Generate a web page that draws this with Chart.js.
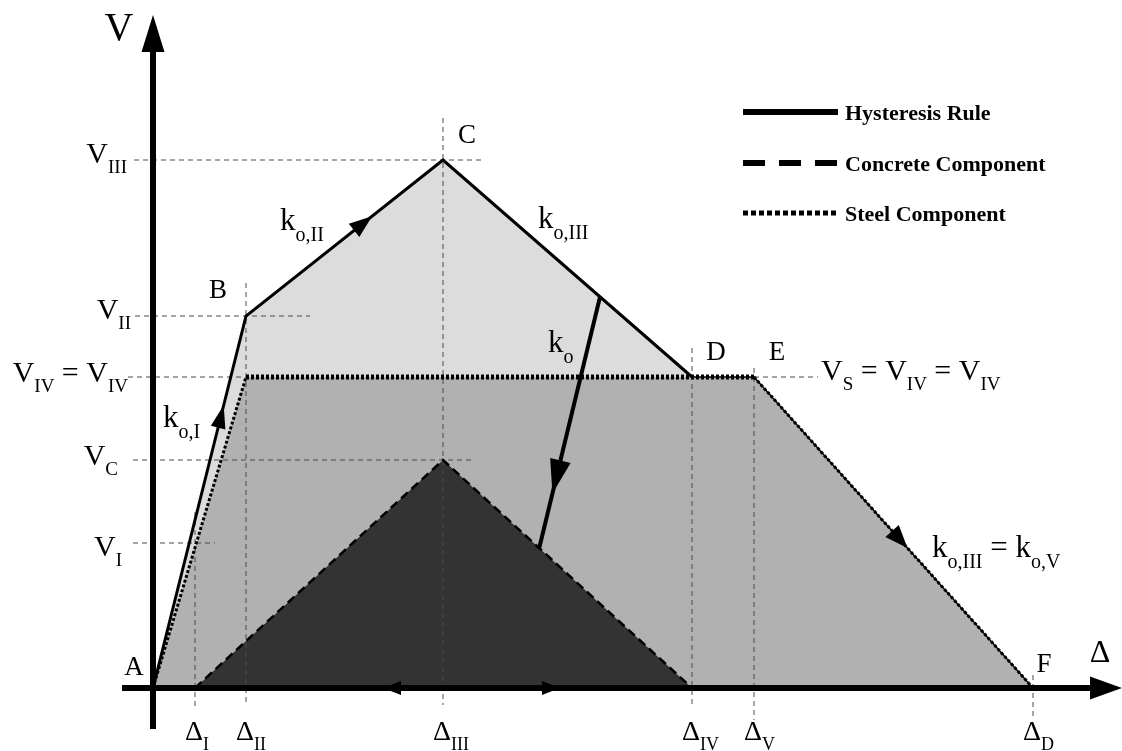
<!DOCTYPE html>
<html>
<head>
<meta charset="utf-8">
<title>Hysteresis rule</title>
<script src="https://cdn.jsdelivr.net/npm/chart.js@4.4.1/dist/chart.umd.min.js"></script>
<style>
  html, body { margin: 0; padding: 0; background: #fff; }
  #wrap { width: 1122px; height: 751px; }
</style>
</head>
<body>
<div id="wrap"><canvas id="chart" width="1122" height="751"></canvas></div>
<script>
// displacement marks on the Δ axis
var deltaNames = ['I', 'II', 'III', 'IV', 'V', 'D'];
var deltaValues = [4.2, 9.3, 29.0, 53.9, 60.1, 88.0];
// shear marks on the V axis
var shearNames = ['I', 'II', 'III', 'IV', 'C'];
var shearValues = [14.5, 37.2, 52.8, 31.1, 22.8];
// unloading branch k_o (start on C-D, end on concrete branch)
var unloadX = [44.7, 38.6];
var unloadY = [39.1, 13.9];

var d = {}, v = {};
deltaNames.forEach(function (n, i) { d[n] = deltaValues[i]; });
shearNames.forEach(function (n, i) { v[n] = shearValues[i]; });

var hysteresis = [
  {x: 0, y: 0}, {x: d.II, y: v.II}, {x: d.III, y: v.III},
  {x: d.IV, y: v.IV}, {x: d.V, y: v.IV}, {x: d.D, y: 0}
];
var steel = [{x: 0, y: 0}, {x: d.II, y: v.IV}, {x: d.V, y: v.IV}, {x: d.D, y: 0}];
var concrete = [{x: d.I, y: 0}, {x: d.III, y: v.C}, {x: d.IV, y: 0}];
var unload = [{x: unloadX[0], y: unloadY[0]}, {x: unloadX[1], y: unloadY[1]}];

// thin dashed reference lines
var guideSegs = [
  [[-1.9, v.III], [33.2, v.III]],
  [[-1.8, v.II], [15.7, v.II]],
  [[-2.5, v.IV], [d.II, v.IV]],
  [[d.V, v.IV], [66.5, v.IV]],
  [[-2.0, v.C], [32.2, v.C]],
  [[-2.0, v.I], [6.2, v.I]],
  [[d.I, 17.6], [d.I, -2.0]],
  [[d.II, 40.5], [d.II, -1.7]],
  [[d.III, 57.0], [d.III, -1.7]],
  [[d.IV, 34.0], [d.IV, -1.7]],
  [[d.V, 32.0], [d.V, -3.2]],
  [[d.D, 1.3], [d.D, -3.0]]
];
var guides = [];
guideSegs.forEach(function (s) {
  guides.push({x: s[0][0], y: s[0][1]}, {x: s[1][0], y: s[1][1]}, {x: s[1][0], y: null});
});

var SERIF = '"Liberation Serif", "DejaVu Serif", serif';

function rich(ctx, runs, x, y, align, size) {
  var subSize = Math.round(size * 0.63);
  var total = 0;
  runs.forEach(function (r) {
    ctx.font = (r[1] ? subSize : size) + 'px ' + SERIF;
    total += ctx.measureText(r[0]).width;
  });
  var cx = align === 'right' ? x - total : (align === 'center' ? x - total / 2 : x);
  ctx.textAlign = 'left';
  ctx.textBaseline = 'alphabetic';
  runs.forEach(function (r) {
    ctx.font = (r[1] ? subSize : size) + 'px ' + SERIF;
    ctx.fillText(r[0], cx, r[1] ? y + size * 0.34 : y);
    cx += ctx.measureText(r[0]).width;
  });
}

function arrowHead(ctx, tx, ty, ang, len, hw) {
  ctx.save();
  ctx.translate(tx, ty);
  ctx.rotate(ang);
  ctx.beginPath();
  ctx.moveTo(0, 0);
  ctx.lineTo(-len, -hw);
  ctx.lineTo(-len, hw);
  ctx.closePath();
  ctx.fill();
  ctx.restore();
}

var decor = {
  id: 'decor',
  afterDatasetsDraw: function (chart) {
    var ctx = chart.ctx;
    var xs = chart.scales.x, ys = chart.scales.y;
    var px = function (x) { return xs.getPixelForValue(x); };
    var py = function (y) { return ys.getPixelForValue(y); };
    ctx.save();
    ctx.fillStyle = '#000';
    ctx.strokeStyle = '#000';

    // axes
    ctx.lineWidth = 6;
    ctx.setLineDash([]);
    ctx.beginPath();
    ctx.moveTo(px(0), py(-4.1));
    ctx.lineTo(px(0), py(67.3) + 30);
    ctx.moveTo(px(-3.1), py(0));
    ctx.lineTo(px(96.9) - 28, py(0));
    ctx.stroke();
    arrowHead(ctx, px(0), py(67.3), -Math.PI / 2, 37, 11.5);
    arrowHead(ctx, px(96.9), py(0), 0, 32, 11.5);

    // arrows along branches
    function onSeg(p0, p1, f, len, hw) {
      var x0 = px(p0.x), y0 = py(p0.y), x1 = px(p1.x), y1 = py(p1.y);
      var tx = x0 + (x1 - x0) * f, ty = y0 + (y1 - y0) * f;
      arrowHead(ctx, tx, ty, Math.atan2(y1 - y0, x1 - x0), len, hw);
    }
    onSeg(hysteresis[0], hysteresis[1], 0.76, 23, 7.5);
    onSeg(hysteresis[1], hysteresis[2], 0.64, 23, 8.5);
    onSeg(unload[0], unload[1], 0.78, 34, 10.5);
    onSeg(hysteresis[4], hysteresis[5], 0.55, 23, 9);
    arrowHead(ctx, px(23.0), py(0), Math.PI, 18, 7);
    arrowHead(ctx, px(40.7), py(0), 0, 18, 7);

    // axis titles
    ctx.textAlign = 'center';
    ctx.textBaseline = 'alphabetic';
    ctx.font = '40px ' + SERIF;
    ctx.fillText('V', px(-3.4), 40);
    ctx.font = '32px ' + SERIF;
    ctx.fillText('\u0394', px(94.7), py(2.6));

    // point letters
    ctx.font = '27px ' + SERIF;
    var off = [[-19, -13], [-28, -18], [24, -17], [24, -17], [23, -17], [11, -16]];
    ['A', 'B', 'C', 'D', 'E', 'F'].forEach(function (n, i) {
      ctx.fillText(n, px(hysteresis[i].x) + off[i][0], py(hysteresis[i].y) + off[i][1]);
    });

    // V axis labels
    var yOff = {I: 13, II: 3, III: 3, IV: 5, C: 5};
    var yRight = {I: 122, II: 131, III: 127, IV: 128, C: 118};
    shearNames.forEach(function (n) {
      var runs = n === 'IV' ? [['V'], ['IV', 1], [' = V'], ['IV', 1]] : [['V'], [n, 1]];
      rich(ctx, runs, yRight[n], py(v[n]) + yOff[n], 'right', 30);
    });

    // Δ axis labels
    deltaNames.forEach(function (n) {
      ctx.font = '28px ' + SERIF;
      var w = ctx.measureText('\u0394').width;
      rich(ctx, [['\u0394'], [n, 1]], px(d[n]) - w / 2 - 1, 740, 'left', 28);
    });

    // stiffness annotations
    rich(ctx, [['k'], ['o,II', 1]], px(12.7), py(45.8), 'left', 31);
    rich(ctx, [['k'], ['o,III', 1]], px(38.5), py(46.0), 'left', 31);
    rich(ctx, [['k'], ['o', 1]], px(39.5), py(33.6), 'left', 31);
    rich(ctx, [['k'], ['o,I', 1]], px(1.0), py(26.1), 'left', 31);
    rich(ctx, [['V'], ['S', 1], [' = V'], ['IV', 1], [' = V'], ['IV', 1]], px(66.8), py(30.8), 'left', 30);
    rich(ctx, [['k'], ['o,III', 1], [' = k'], ['o,V', 1]], px(77.9), py(13.1), 'left', 31);

    // legend
    var items = [
      ['Hysteresis Rule', [], 6, 112],
      ['Concrete Component', [22, 14], 6, 163],
      ['Steel Component', [5, 3], 5, 213]
    ];
    items.forEach(function (it) {
      ctx.setLineDash(it[1]);
      ctx.lineWidth = it[2];
      ctx.beginPath();
      ctx.moveTo(743, it[3]);
      ctx.lineTo(838, it[3]);
      ctx.stroke();
      ctx.setLineDash([]);
      ctx.font = 'bold 22px ' + SERIF;
      ctx.textAlign = 'left';
      ctx.textBaseline = 'middle';
      ctx.fillText(it[0], 845, it[3] + 2);
    });
    ctx.restore();
  }
};

var ctx = document.getElementById('chart').getContext('2d');
var chart = new Chart(ctx, {
  type: 'line',
  data: {
    datasets: [
      {label: 'envelope', data: hysteresis, fill: 'origin', backgroundColor: '#dcdcdc', borderWidth: 0, pointRadius: 0, order: 10},
      {label: 'steel area', data: steel, fill: 'origin', backgroundColor: '#b1b1b1', borderWidth: 0, pointRadius: 0, order: 9},
      {label: 'concrete area', data: concrete, fill: 'origin', backgroundColor: '#333333', borderWidth: 0, pointRadius: 0, order: 8},
      {label: 'guides', data: guides, borderColor: '#4a4a4a', borderWidth: 1, borderDash: [5, 4], pointRadius: 0, fill: false, spanGaps: false, order: 7},
      {label: 'Hysteresis Rule (tail)', data: hysteresis.slice(3), borderColor: '#000', borderWidth: 1.3, pointRadius: 0, fill: false, order: 6},
      {label: 'Hysteresis Rule', data: hysteresis.slice(0, 4), borderColor: '#000', borderWidth: 3, pointRadius: 0, fill: false, order: 4},
      {label: 'Concrete Component', data: concrete.concat([concrete[0]]), borderColor: '#000', borderWidth: 2.5, borderDash: [9, 5], pointRadius: 0, fill: false, order: 3},
      {label: 'Steel Component', data: steel, borderColor: '#000', borderDash: [3, 2], pointRadius: 0, fill: false, order: 3,
        segment: {borderWidth: function (c) { return c.p0.parsed.y === c.p1.parsed.y ? 5 : 3; }}},
      {label: 'k_o', data: unload, borderColor: '#000', borderWidth: 4, pointRadius: 0, fill: false, order: 2}
    ]
  },
  options: {
    responsive: false,
    animation: false,
    events: [],
    layout: {padding: 0},
    scales: {
      x: {type: 'linear', min: -15.3, max: 96.9, display: false},
      y: {type: 'linear', min: -6.3, max: 68.8, display: false}
    },
    plugins: {legend: {display: false}, tooltip: {enabled: false}}
  },
  plugins: [decor]
});
</script>
</body>
</html>
